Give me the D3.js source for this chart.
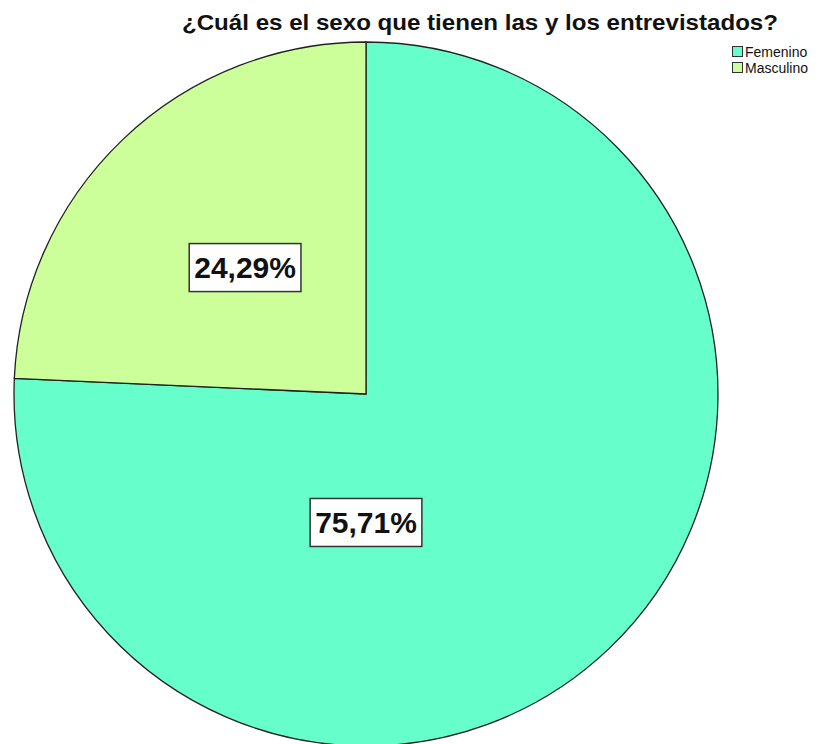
<!DOCTYPE html>
<html>
<head>
<meta charset="utf-8">
<script src="https://cdn.jsdelivr.net/npm/d3@7"></script>
<style>
  html, body { margin: 0; padding: 0; background: #fff; }
  svg { display: block; font-family: "Liberation Sans", Arial, sans-serif; }
</style>
</head>
<body>
<svg width="819" height="744"></svg>
<script>
// datos del gráfico de sectores
const categorias = ["Femenino", "Masculino"];
const porcentajes = [75.71, 24.29];
const colores = ["#66ffcc", "#ccff99"];
const titulo = "¿Cuál es el sexo que tienen las y los entrevistados?";

const svg = d3.select("svg");

const cx = 366, cy = 394, radio = 352;

const datos = categorias.map((c, i) => ({ cat: c, valor: porcentajes[i], color: colores[i] }));

const pie = d3.pie().value(d => d.valor).sort(null);
const arcos = pie(datos);
const arc = d3.arc().innerRadius(0).outerRadius(radio);

const g = svg.append("g").attr("transform", `translate(${cx},${cy})`);

g.selectAll("path.sector")
  .data(arcos)
  .enter()
  .append("path")
  .attr("class", "sector")
  .attr("d", arc)
  .attr("fill", d => d.data.color)
  .attr("stroke", "#222")
  .attr("stroke-width", 1.3);

// posición de las etiquetas (ángulo desde las 12, fracción del radio)
const posEtiqueta = [
  { ang: Math.PI, frac: 0.365 },
  { ang: null, frac: 0.497 }
];

const fmt = v => v.toFixed(2).replace(".", ",") + "%";

arcos.forEach((a, i) => {
  const p = posEtiqueta[i];
  const ang = p.ang === null ? (a.startAngle + a.endAngle) / 2 : p.ang;
  const x = Math.sin(ang) * radio * p.frac;
  const y = -Math.cos(ang) * radio * p.frac;
  const lab = g.append("g").attr("transform", `translate(${x},${y})`);
  const t = lab.append("text")
    .attr("text-anchor", "middle")
    .attr("dy", "0.36em")
    .style("font-size", "30px")
    .style("font-weight", 700)
    .attr("fill", "#111")
    .text(fmt(a.data.valor));
  const bb = t.node().getBBox();
  lab.insert("rect", "text")
    .attr("x", bb.x - 5)
    .attr("y", -24)
    .attr("width", bb.width + 10)
    .attr("height", 48)
    .attr("fill", "#fff")
    .attr("stroke", "#333")
    .attr("stroke-width", 1.5);
});

// título
svg.append("text")
  .attr("x", 480)
  .attr("y", 30)
  .attr("text-anchor", "middle")
  .attr("textLength", 596)
  .attr("lengthAdjust", "spacingAndGlyphs")
  .style("font-size", "22px")
  .style("font-weight", 700)
  .attr("fill", "#111")
  .text(titulo);

// leyenda
const leyenda = svg.append("g").attr("transform", "translate(732, 46)");
datos.forEach((d, i) => {
  const fila = leyenda.append("g").attr("transform", `translate(0, ${i * 16})`);
  fila.append("rect")
    .attr("x", 0.5).attr("y", 0.5).attr("width", 10).attr("height", 10)
    .attr("fill", d.color)
    .attr("stroke", "#333")
    .attr("stroke-width", 1);
  fila.append("text")
    .attr("x", 13).attr("y", 11)
    .style("font-size", "14px")
    .attr("fill", "#111")
    .text(d.cat);
});
</script>
</body>
</html>
